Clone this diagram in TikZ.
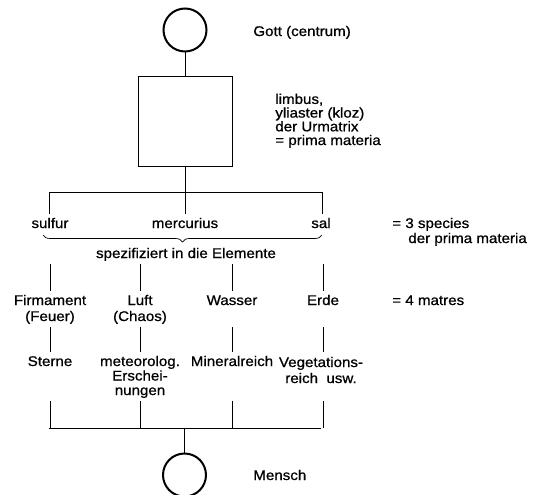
\documentclass[tikz,border=0pt]{standalone}
\usepackage{fontspec}
\setmainfont[FakeStretch=1.08, FakeBold=0.8]{Liberation Sans}
\usetikzlibrary{calc}
\usetikzlibrary{decorations.pathreplacing}
\tikzset{
  every picture/.style={
    x=1pt, y=-1pt,
    line width=0.7pt
  },
  ring/.style={
    circle, draw, line width=2pt, minimum size=43pt,
    inner sep=0pt
  },
  matrixbox/.style={
    draw, line width=1pt, minimum width=94pt, minimum height=89pt,
    inner sep=0pt
  },
  word/.style={
    font=\fontsize{14}{14.5}\selectfont, inner xsep=0pt, inner ysep=3pt
  },
  rowword/.style={
    word, anchor=base, text height=10.5pt, text depth=3pt
  },
  stack/.style={
    word, anchor=base, align=center
  },
  wide stack/.style={
    stack, font=\fontsize{14}{16}\selectfont
  },
  brace down/.style={
    decorate, decoration={brace, mirror, amplitude=7pt}
  }
}
\begin{document}
\begin{tikzpicture}
  \useasboundingbox (0,0) rectangle (533,495);
  \node[ring] (gott) at (185,30) {};
  \node[word, anchor=base west] (gott text) at (253,36) {Gott (centrum)};
  \node[matrixbox] (limbus) at (185,121.5) {};
  \node[word, anchor=base west, align=left, font=\fontsize{14}{13.7}\selectfont]
    (limbus text) at (275,145)
    {limbus,\\yliaster (kloz)\\der Urmatrix\\= prima materia};
  \draw (gott) -- (limbus);
  \coordinate (tl) at (49,192);
  \coordinate (tr) at (322,192);
  \node[rowword] (sulfur) at (50,228) {sulfur};
  \node[rowword] (mercurius) at (185,228) {mercurius};
  \node[rowword] (sal) at (321,228) {sal};
  \node[word, anchor=base west] (species) at (392,228) {= 3 species};
  \node[word, anchor=base west] (species2) at (408,243) {der prima materia};
  \draw (limbus) -- (mercurius);
  \draw (tl) -- (tr);
  \draw (tl) -- (tl |- sulfur.north);
  \draw (tr) -- (tr |- sal.north);
  \coordinate (bl) at (43,235);
  \coordinate (br) at (322,235);
  \draw[brace down] (bl) -- (br);
  \node[rowword] (spez) at (186,258) {spezifiziert in die Elemente};
  \node[wide stack] (firm) at (50,321) {Firmament\\(Feuer)};
  \node[wide stack] (luft) at (140,321) {Luft\\(Chaos)};
  \node[rowword] (wasser) at (232,305) {Wasser};
  \node[rowword] (erde) at (323,305) {Erde};
  \node[word, anchor=base west] (matres) at (392,305) {= 4 matres};
  \foreach \n in {firm,luft,wasser,erde}
    \draw (\n |- spez.south) -- (\n |- wasser.north);
  \node[rowword] (sterne) at (50,366) {Sterne};
  \node[stack] (met) at (140,395) {meteorolog.\\Erschei-\\nungen};
  \node[rowword] (mineral) at (232,366) {Mineralreich};
  \node[wide stack] (veg) at (321,383) {Vegetations-\\reich~~usw.};
  \draw (firm.south) -- (firm |- sterne.north);
  \draw (luft |- firm.south) -- (luft |- sterne.north);
  \draw (wasser |- firm.south) -- (mineral.north);
  \draw (erde |- firm.south) -- (erde |- sterne.north);
  \coordinate (basel) at (49,428);
  \coordinate (baser) at (321,428);
  \draw (basel) -- (baser);
  \foreach \n in {sterne,met,mineral,erde}
    \draw (\n |- met.south) -- (\n |- basel);
  \node[ring] (mensch) at (184.5,475) {};
  \node[word, anchor=base west] (mensch text) at (253,480) {Mensch};
  \draw (mensch) -- (mensch |- basel);
\end{tikzpicture}
\end{document}
